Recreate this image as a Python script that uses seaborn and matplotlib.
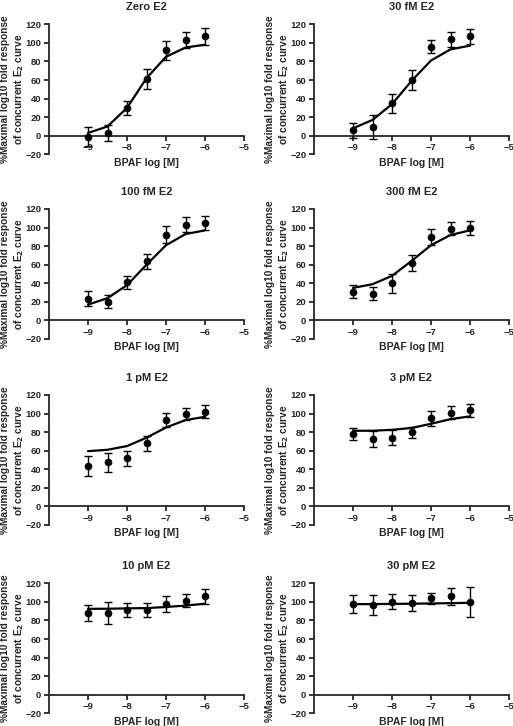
import matplotlib
matplotlib.use('Agg')
import matplotlib.pyplot as plt
import seaborn as sns

# BPAF concentrations (log M)
bpaf = [-9, -8.5, -8, -7.5, -7, -6.5, -6]

titles = ['Zero E2', '30 fM E2', '100 fM E2', '300 fM E2',
          '1 pM E2', '3 pM E2', '10 pM E2', '30 pM E2']

# mean response (%), error (+/-) and fitted curve
zero_mean = [-1, 3, 30, 61, 92, 103, 107]
zero_err = [10, 9, 7.5, 11, 10.5, 8.5, 9]
zero_fit = [3, 10, 30, 62, 85, 95, 98]

fm30_mean = [6, 9, 35, 60, 96, 104, 107]
fm30_err = [8, 13, 10, 11, 7, 8, 8]
fm30_fit = [8, 17, 34, 59, 81, 93, 97]

fm100_mean = [23.5, 20, 41, 63.5, 92.5, 103, 105]
fm100_err = [8, 7, 7, 8, 9, 8, 7.5]
fm100_fit = [17, 24, 38, 60, 81, 93, 97]

fm300_mean = [31, 28.5, 40, 62, 90, 99, 100]
fm300_err = [7, 7, 10, 8.5, 8.5, 7, 7.5]
fm300_fit = [35, 39, 48, 64, 81, 92, 97]

pm1_mean = [43.5, 47.5, 52, 68, 93, 100, 102]
pm1_err = [10.8, 10.5, 8, 8, 7.5, 6.5, 7]
pm1_fit = [59.5, 61, 65, 74, 85, 93, 96.5]

pm3_mean = [78.5, 72.5, 74, 80, 95, 101, 103.5]
pm3_err = [6.5, 9, 8, 6, 8, 7, 7]
pm3_fit = [81.5, 81.5, 82.5, 84.5, 89, 94, 97]

pm10_mean = [88, 88, 91, 91, 97.5, 101, 106]
pm10_err = [8.5, 11.5, 7.5, 7.5, 8.5, 7, 8]
pm10_fit = [92.5, 92.6, 93, 93.3, 94.5, 96, 98]

pm30_mean = [98, 97, 100, 99, 104, 106, 100]
pm30_err = [9.7, 10.7, 8, 8.5, 6, 9, 16]
pm30_fit = [97.5, 97.6, 97.8, 98, 98.3, 98.6, 99]

panels = [(zero_mean, zero_err, zero_fit), (fm30_mean, fm30_err, fm30_fit),
          (fm100_mean, fm100_err, fm100_fit), (fm300_mean, fm300_err, fm300_fit),
          (pm1_mean, pm1_err, pm1_fit), (pm3_mean, pm3_err, pm3_fit),
          (pm10_mean, pm10_err, pm10_fit), (pm30_mean, pm30_err, pm30_fit)]

sns.set_style('ticks')
plt.rcParams['font.family'] = ['Liberation Sans', 'DejaVu Sans']
plt.rcParams['font.weight'] = 'bold'
plt.rcParams['mathtext.default'] = 'bf'

fig = plt.figure(figsize=(5.13, 7.26), dpi=100)

W, H = 513, 726
lefts = [49, 314]
tops = [24.3, 209, 395, 583.3]
aw, ah = 195, 130

for i, (mean, err, fit) in enumerate(panels):
    r, c = divmod(i, 2)
    ax = fig.add_axes([lefts[c] / W, 1 - (tops[r] + ah) / H, aw / W, ah / H])

    sns.lineplot(x=bpaf, y=fit, ax=ax, color='black', lw=1.6)
    ax.errorbar(bpaf, mean, yerr=err, fmt='none', ecolor='black',
                elinewidth=1, capsize=3.2, capthick=1)
    sns.scatterplot(x=bpaf, y=mean, ax=ax, color='black', s=26,
                    edgecolor='black', zorder=5)

    ax.set_xlim(-10, -5)
    ax.set_ylim(-20, 120)
    ax.set_xticks([-9, -8, -7, -6, -5])
    ax.set_yticks(range(-20, 121, 20))
    ax.spines['top'].set_visible(False)
    ax.spines['right'].set_visible(False)
    ax.spines['bottom'].set_position(('data', 0))
    for s in ['left', 'bottom']:
        ax.spines[s].set_linewidth(1.3)
    ax.tick_params(direction='out', length=3.5, width=1.3, labelsize=6.8, pad=2)
    for lab in ax.get_xticklabels() + ax.get_yticklabels():
        lab.set_fontweight('bold')

    ax.set_title(titles[i], fontsize=8, fontweight='bold', pad=10)
    ax.set_xlabel('BPAF log [M]', fontsize=7.5, fontweight='bold')
    ax.xaxis.set_label_coords(0.5, -0.025)
    ax.set_ylabel('%Maximal log10 fold response\nof concurrent E$_2$ curve',
                  fontsize=7.3, fontweight='bold', linespacing=1.25)
    ax.yaxis.set_label_coords(-0.118, 0.5)

plt.savefig('out.png', dpi=100)
